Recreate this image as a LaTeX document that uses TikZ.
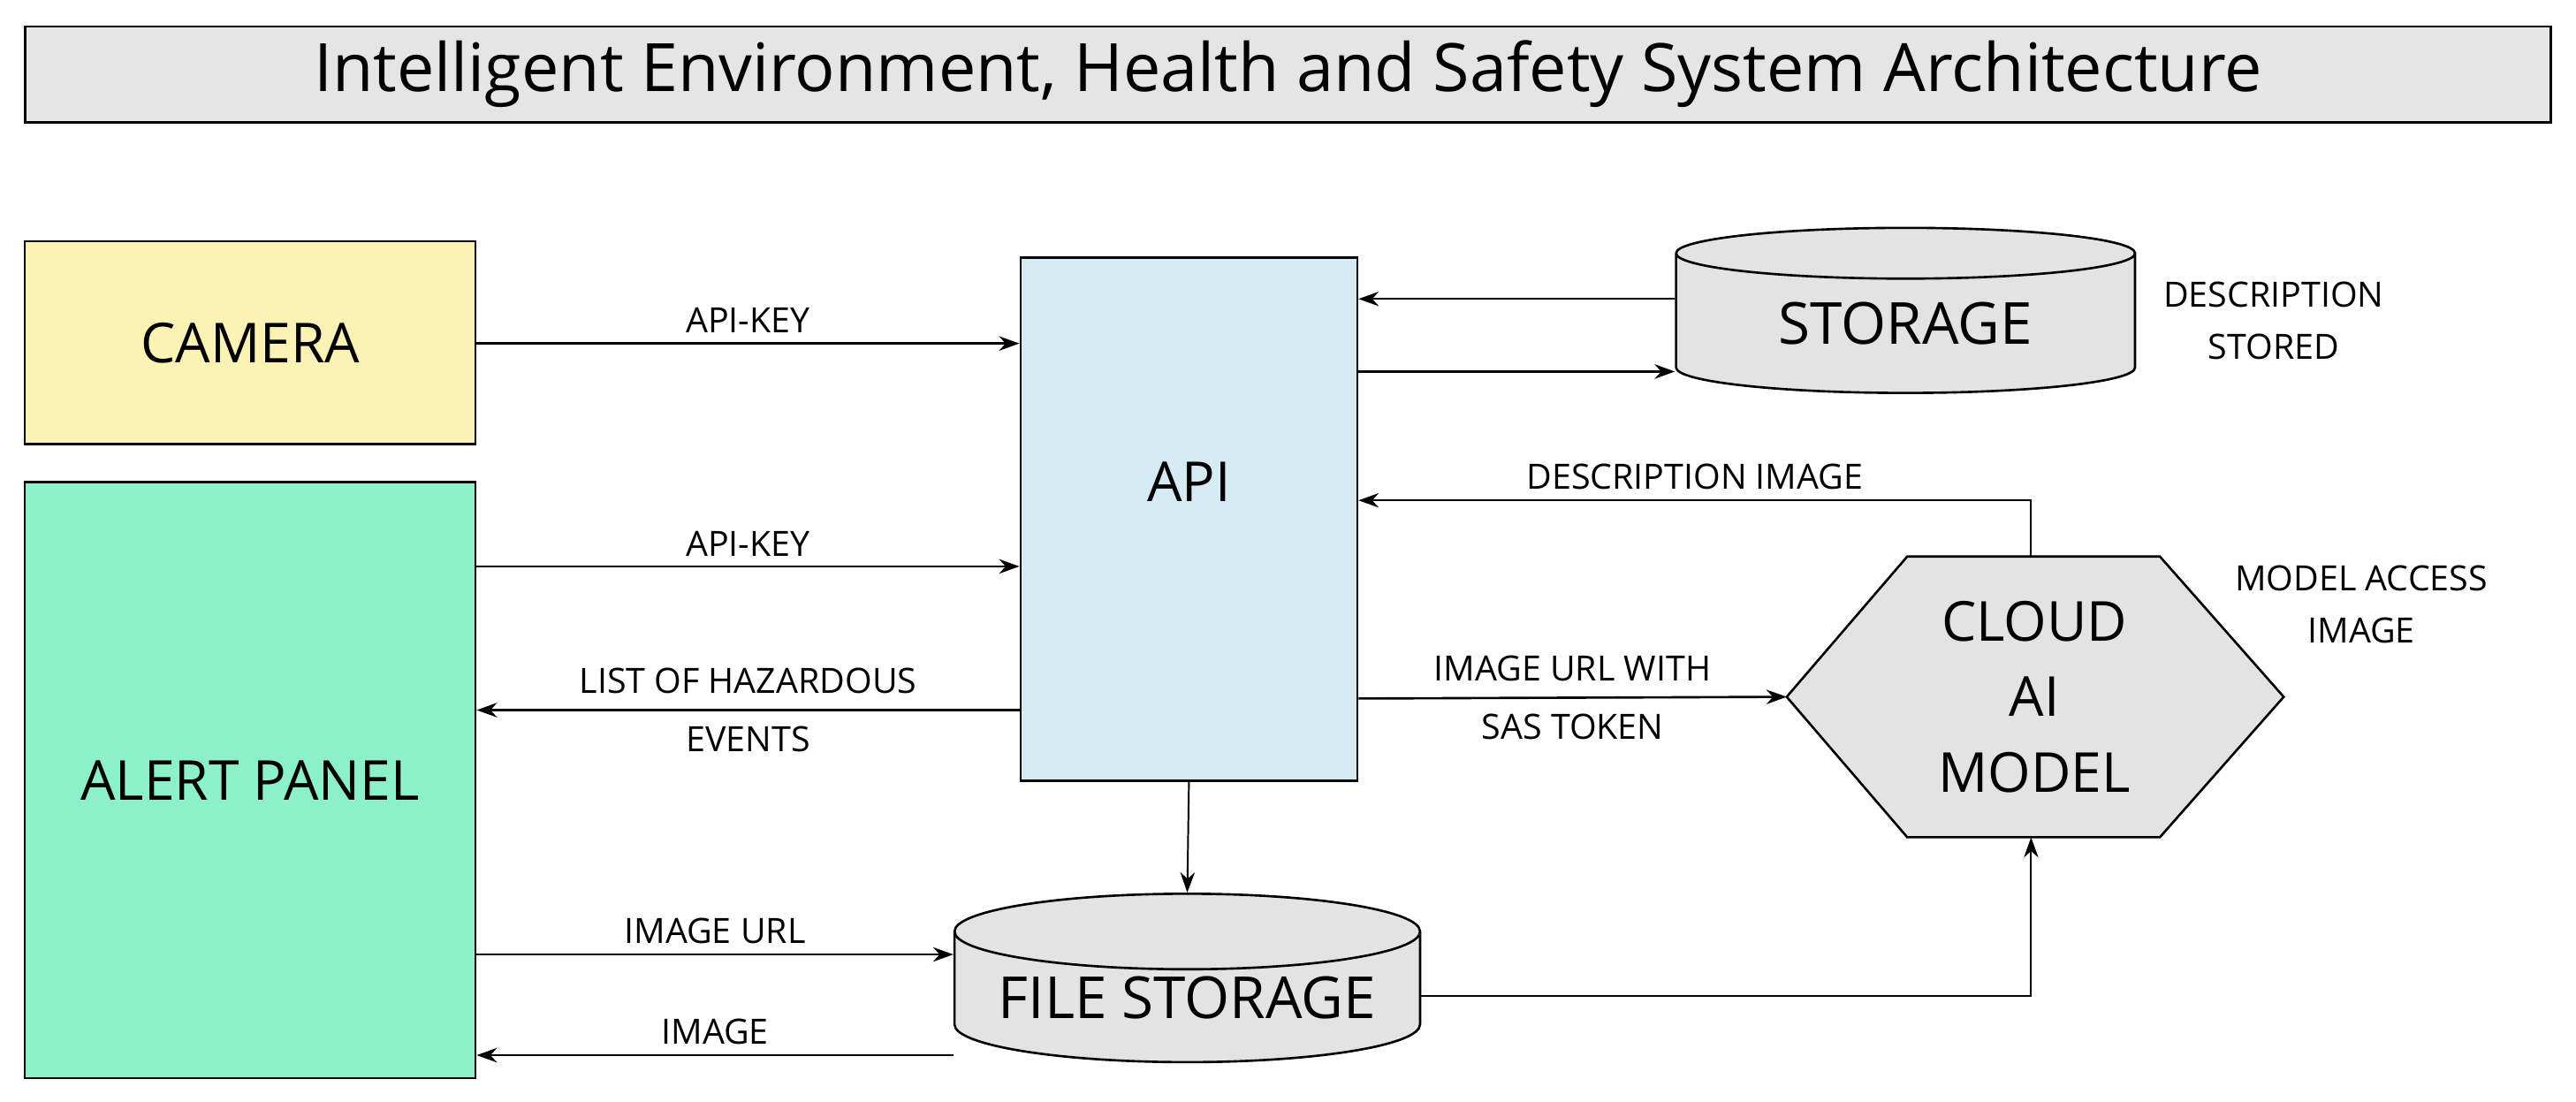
\documentclass[tikz,border=0pt]{standalone}
\usepackage{fontspec}
\setmainfont{Open Sans}
\usetikzlibrary{arrows.meta, positioning, shapes.geometric}
\definecolor{mint}{HTML}{8CF0C8}
\definecolor{paleyellow}{HTML}{FCF2B4}
\definecolor{paleblue}{HTML}{D6EAF4}

\begin{document}
\begin{tikzpicture}[
    x=0.02cm, y=-0.02cm,
    box/.style={draw, thick, text centered, inner sep=0pt},
    store/.style={draw, thick, cylinder, shape border rotate=90, aspect=0.2,
    fill=gray!22, inner sep=0pt, font=\fontsize{20}{24}\selectfont},
    lbl/.style={font=\fontsize{12}{18}\selectfont, align=center},
    link/.style={-{Stealth[length=7pt, width=5pt]}, thick},
    thin link/.style={-{Stealth[length=7pt, width=5pt]}, semithick}
    ]
    \useasboundingbox (0,0) rectangle (1560,667);
    % title
    \node[box, fill=gray!20, minimum width=30.6cm, minimum height=1.16cm,
      font=\fontsize{23}{28}\selectfont]  (title)  at (780,45)
      {Intelligent Environment, Health and Safety System Architecture};

    % blocks
    \node[box, fill=paleyellow, minimum width=5.46cm, minimum height=2.46cm,
      font=\fontsize{19}{23}\selectfont]  (cam)  at (151.5,207.5)  {CAMERA};
    \node[box, fill=mint, minimum width=5.46cm, minimum height=7.22cm,
      font=\fontsize{19}{23}\selectfont]  (alert)  at (151.5,472.5)  {ALERT PANEL};
    \node[box, fill=paleblue, minimum width=4.08cm, minimum height=6.34cm]  (api)  at (720,314.5)  {};
    \node[font=\fontsize{19}{23}\selectfont]  (apit)  at (720,292)  {API};
    \node[store, minimum width=5.56cm, minimum height=2.0cm]  (stor)  at (1154,196)  {STORAGE};
    \node[store, minimum width=5.64cm, minimum height=2.04cm]  (fstor)  at (719,604)  {FILE STORAGE};

    % cloud model hexagon
    \coordinate (h1) at (1082,422);
    \coordinate (h2) at (1155,337);
    \coordinate (h3) at (1308,337);
    \coordinate (h4) at (1383,422);
    \coordinate (h5) at (1308,507);
    \coordinate (h6) at (1155,507);
    \filldraw[thick, fill=gray!22] (h1) -- (h2) -- (h3) -- (h4) -- (h5) -- (h6) -- cycle;
    \node[font=\fontsize{19}{26}\selectfont, align=center]  (ai)  at (1232,422)
      {CLOUD\\AI\\MODEL};
    \coordinate (htop) at (1230,337);
    \coordinate (hbot) at (1230,507);
    \coordinate (turn1) at (1230,303);
    \coordinate (turn2) at (1230,603);

    % connectors
    \draw[link] (cam.east |- 0,208) -- node[lbl, above] {API-KEY} (api.west |- 0,208);
    \draw[thin link] (stor.west |- 0,181) -- (api.east |- 0,181);
    \draw[link] (api.east |- 0,225) -- (stor.west |- 0,225);
    \draw[thin link] (htop) -- (turn1) -- node[lbl, above] {DESCRIPTION IMAGE} (api.east |- turn1);
    \draw[thin link] (alert.east |- 0,343) -- node[lbl, above] {API-KEY} (api.west |- 0,343);
    \draw[link] (api.west |- 0,430) -- node[lbl, midway] {LIST OF HAZARDOUS\\[2pt]EVENTS} (alert.east |- 0,430);
    \draw[link] (api.east |- 0,423) -- node[lbl, midway] {IMAGE URL WITH\\[2pt]SAS TOKEN} (h1);
    \draw[thin link] (api.south) -- (fstor.top);
    \draw[thin link] (alert.east |- 0,578) -- node[lbl, above] {IMAGE URL} (fstor.west |- 0,578);
    \draw[link] (fstor.west |- 0,639) -- node[lbl, above] {IMAGE} (alert.east |- 0,639);
    \draw[thin link] (fstor.east |- turn2) -- (turn2) -- (hbot);

    % side notes
    \node[lbl, anchor=west]  (desc)  at (1304,194)  {DESCRIPTION\\STORED};
    \node[lbl]  (acc)  at (1430,366)  {MODEL ACCESS\\IMAGE};
\end{tikzpicture}
\end{document}
